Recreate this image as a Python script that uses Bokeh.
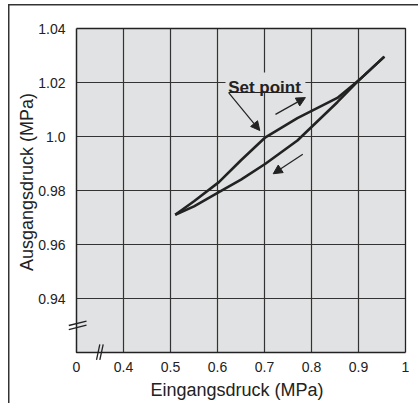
from bokeh.plotting import figure
from bokeh.models import Range1d, FixedTicker, Arrow, NormalHead
from bokeh.embed import file_html
from bokeh.resources import INLINE
from bokeh.core.properties import value

# ---- data ----
x_ticks = [0.3, 0.4, 0.5, 0.6, 0.7, 0.8, 0.9, 1.0]
x_tick_labels = ["0", "0.4", "0.5", "0.6", "0.7", "0.8", "0.9", "1"]
y_ticks = [0.94, 0.96, 0.98, 1.0, 1.02, 1.04]
y_tick_labels = ["0.94", "0.96", "0.98", "1.0", "1.02", "1.04"]
y_floor = 0.92

up_x = [0.51, 0.55, 0.603, 0.65, 0.702, 0.77, 0.855, 0.90, 0.955]
up_y = [0.971, 0.9760, 0.9831, 0.9912, 0.9997, 1.0068, 1.0143, 1.0207, 1.0296]
down_x = [0.955, 0.90, 0.855, 0.77, 0.702, 0.65, 0.603, 0.55, 0.51]
down_y = [1.0296, 1.0207, 1.0127, 0.9985, 0.9899, 0.9840, 0.9794, 0.9741, 0.971]

FONT = "Liberation Sans"
INK = "#222222"
BG = "#e1e2e3"

x0, x1 = x_ticks[0], x_ticks[-1]
y0, y1 = y_floor, y_ticks[-1]

p = figure(width=418, height=403, output_backend="svg", toolbar_location=None,
           x_range=Range1d(x0 - 10 / 470, x1 + 2 / 470),
           y_range=Range1d(y0 - 10 / 2700, y1 + 2 / 2700),
           min_border_left=66, min_border_right=11, min_border_top=26, min_border_bottom=41,
           background_fill_color=None, border_fill_color=None, outline_line_color=None,
           styles={"background": "linear-gradient(#333,#333) 8px 4px / 1.5px 399px no-repeat, "
                                 "linear-gradient(#333,#333) 8px 4px / 410px 1.5px no-repeat, white"})

p.xaxis.ticker = FixedTicker(ticks=x_ticks)
p.xaxis.major_label_overrides = {t: l for t, l in zip(x_ticks, x_tick_labels)}
p.yaxis.ticker = FixedTicker(ticks=y_ticks)
p.yaxis.major_label_overrides = {t: l for t, l in zip(y_ticks, y_tick_labels)}

for ax in (p.xaxis[0], p.yaxis[0]):
    ax.major_tick_line_color = None
    ax.minor_tick_line_color = None
    ax.axis_line_color = None
    ax.major_label_text_font = FONT
    ax.major_label_text_font_size = "14px"
    ax.major_label_text_color = INK
    ax.axis_label_text_font = FONT
    ax.axis_label_text_font_size = "18px"
    ax.axis_label_text_font_style = "normal"
    ax.axis_label_text_color = INK

p.xaxis.axis_label = "Eingangsdruck (MPa)"
p.yaxis.axis_label = "\u00a0" * 5 + "Ausgangsdruck (MPa)"
p.yaxis.major_label_standoff = -5
p.yaxis.axis_label_standoff = -2
p.xaxis.major_label_standoff = -7
p.xaxis.axis_label_standoff = 5
p.grid.visible = False

# plot area (gray panel), grid, axes and border
p.quad(left=[x0], right=[x1], bottom=[y0], top=[y1], fill_color=BG, line_color=None)
gx = x_ticks[1:-1]
p.segment(x0=gx, y0=[y0] * len(gx), x1=gx, y1=[y1] * len(gx), line_color="#333333", line_width=1.2)
gy = y_ticks[:-1]
p.segment(x0=[x0] * len(gy), y0=gy, x1=[x1] * len(gy), y1=gy, line_color="#333333", line_width=1.2)
p.line([x0, x1, x1], [y1, y1, y0], line_color=INK, line_width=1.3)
p.line([x0, x0, x1], [y1, y0, y0], line_color=INK, line_width=1.5)

# hysteresis curves
p.line(up_x, up_y, line_color=INK, line_width=2.6, line_join="round")
p.line(down_x, down_y, line_color=INK, line_width=2.6, line_join="round")

# direction arrows
head = lambda: NormalHead(size=9, fill_color=INK, line_color=INK)
p.add_layout(Arrow(x_start=0.7234, y_start=1.0082, x_end=0.787, y_end=1.0144,
                   line_color=INK, line_width=1.2, end=head()))
p.add_layout(Arrow(x_start=0.7815, y_start=0.9934, x_end=0.7185, y_end=0.9862,
                   line_color=INK, line_width=1.2, end=head()))

# "Set point" callout
p.quad(left=[0.617], right=[0.787], bottom=[1.0167], top=[1.0237],
       fill_color=BG, line_color=None)
p.text(x=[0.7], y=[1.0181], text=["Set point"], text_font=value(FONT),
       text_font_size="17px", text_font_style="bold", text_color=INK,
       text_align="center", text_baseline="alphabetic")
p.line([0.6234, 0.7809], [1.0163, 1.0163], line_color=INK, line_width=1.2)
p.add_layout(Arrow(x_start=0.624, y_start=1.0162, x_end=0.690, y_end=1.0022,
                   line_color=INK, line_width=1.2, end=head()))

# axis break marks
p.segment(x0=[0.2836, 0.2836, 0.3426, 0.3496], y0=[0.9300, 0.9285, 0.9173, 0.9173],
          x1=[0.3213, 0.3213, 0.3496, 0.3568], y1=[0.9316, 0.9301, 0.9230, 0.9230],
          line_color=INK, line_width=1.3)

open("out.html", "w").write(file_html(p, INLINE))
